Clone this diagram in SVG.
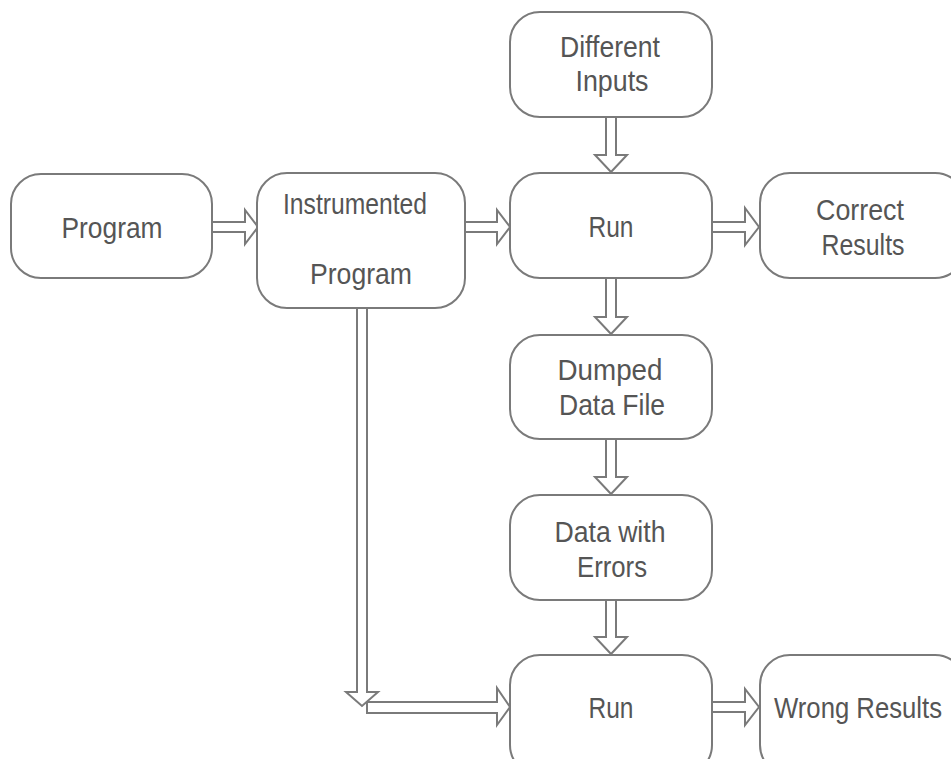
<svg xmlns="http://www.w3.org/2000/svg" width="951" height="759" viewBox="0 0 951 759">
<style>
.box{fill:#fff;stroke:#7a7a7a;stroke-width:2}
.arr{fill:#fff;stroke:#7a7a7a;stroke-width:2;stroke-linejoin:miter}
text{font-family:"Liberation Sans",Arial,sans-serif;font-size:30px;fill:#555;text-anchor:middle}
</style>
<rect width="951" height="759" fill="#fff"/>
<g id="connectors">
<path class="arr" d="M212,222 H245 V210 L258,227 L245,244 V232 H212"/>
<path class="arr" d="M465,222 H497 V210 L510,227 L497,244 V232 H465"/>
<path class="arr" d="M712,222 H745 V208 L759,227 L745,245 V232 H712"/>
<path class="arr" d="M606,117 V155 H595 L611,172 L627,155 H616 V117"/>
<path class="arr" d="M606,278 V317 H595 L611,334 L627,317 H616 V278"/>
<path class="arr" d="M606,439 V477 H595 L611,494 L627,477 H616 V439"/>
<path class="arr" d="M606,600 V637 H595 L611,654 L627,637 H616 V600"/>
<path class="arr" d="M712,702 H745 V689 L759,707 L745,725 V712 H712"/>
<path class="arr" d="M367,702 H497 V688 L510,707 L497,725 V713 H367 Z"/>
<path class="arr" d="M357,308 V692 H346 L362,706 L378,692 H367 V308"/>
</g>
<g id="program"><rect class="box" x="11" y="174" width="201" height="104" rx="30"/><text x="112" y="238" textLength="101" lengthAdjust="spacingAndGlyphs">Program</text></g>
<g id="instrumented"><rect class="box" x="257" y="173" width="208" height="135" rx="30"/><text x="355" y="214" textLength="144" lengthAdjust="spacingAndGlyphs">Instrumented</text><text x="361" y="284" textLength="102" lengthAdjust="spacingAndGlyphs">Program</text></g>
<g id="inputs"><rect class="box" x="510" y="12" width="202" height="105" rx="30"/><text x="610" y="57" textLength="100" lengthAdjust="spacingAndGlyphs">Different</text><text x="612" y="91" textLength="73" lengthAdjust="spacingAndGlyphs">Inputs</text></g>
<g id="run1"><rect class="box" x="510" y="173" width="202" height="105" rx="30"/><text x="611" y="237" textLength="45" lengthAdjust="spacingAndGlyphs">Run</text></g>
<g id="correct"><rect class="box" x="760" y="173" width="205" height="105" rx="30"/><text x="860" y="220" textLength="88" lengthAdjust="spacingAndGlyphs">Correct</text><text x="863" y="255" textLength="83" lengthAdjust="spacingAndGlyphs">Results</text></g>
<g id="dumped"><rect class="box" x="510" y="335" width="202" height="104" rx="30"/><text x="610" y="380" textLength="105" lengthAdjust="spacingAndGlyphs">Dumped</text><text x="612" y="415" textLength="106" lengthAdjust="spacingAndGlyphs">Data File</text></g>
<g id="errors"><rect class="box" x="510" y="495" width="202" height="105" rx="30"/><text x="610" y="542" textLength="111" lengthAdjust="spacingAndGlyphs">Data with</text><text x="612" y="577" textLength="70" lengthAdjust="spacingAndGlyphs">Errors</text></g>
<g id="run2"><rect class="box" x="510" y="655" width="202" height="120" rx="30"/><text x="611" y="718" textLength="45" lengthAdjust="spacingAndGlyphs">Run</text></g>
<g id="wrong"><rect class="box" x="760" y="655" width="205" height="120" rx="30"/><text x="858" y="718" textLength="168" lengthAdjust="spacingAndGlyphs">Wrong Results</text></g>
</svg>
